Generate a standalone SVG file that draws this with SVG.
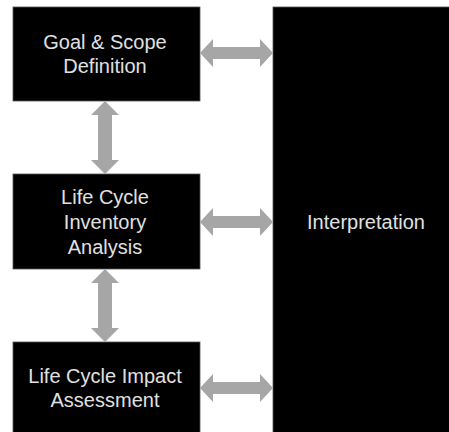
<svg xmlns="http://www.w3.org/2000/svg" width="449" height="432" viewBox="0 0 449 432">
<style>
.box{fill:#000;stroke:#555;stroke-width:0.8}
.t{font-family:"Liberation Sans",Arial,sans-serif;font-size:20px;fill:#e0e0e0;text-anchor:middle}
.arr{fill:#a6a6a6}
</style>
<rect width="449" height="432" fill="#fff"/>
<g id="goal">
<rect class="box" x="13" y="7" width="187" height="94"/>
<text class="t" x="105" y="49">Goal &amp; Scope</text>
<text class="t" x="105" y="73">Definition</text>
</g>
<g id="inventory">
<rect class="box" x="13" y="174" width="187" height="95"/>
<text class="t" x="105" y="204">Life Cycle</text>
<text class="t" x="105" y="229">Inventory</text>
<text class="t" x="105" y="254">Analysis</text>
</g>
<g id="impact">
<rect class="box" x="13" y="342" width="187" height="100"/>
<text class="t" x="105" y="383">Life Cycle Impact</text>
<text class="t" x="105" y="407">Assessment</text>
</g>
<g id="interpretation">
<rect class="box" x="273" y="7" width="186" height="435"/>
<text class="t" x="366" y="229">Interpretation</text>
</g>
<g id="connectors">
<path class="arr" d="M200,53 L213,39 L213,47 L260,47 L260,39 L273,53 L260,67 L260,59 L213,59 L213,67 Z"/>
<path class="arr" d="M200,222 L213,208 L213,216 L260,216 L260,208 L273,222 L260,236 L260,228 L213,228 L213,236 Z"/>
<path class="arr" d="M200,388 L213,374 L213,382 L260,382 L260,374 L273,388 L260,402 L260,394 L213,394 L213,402 Z"/>
<path class="arr" d="M105,101 L119,115 L112,115 L112,160 L119,160 L105,174 L91,160 L98,160 L98,115 L91,115 Z"/>
<path class="arr" d="M105,269 L119,283 L112,283 L112,328 L119,328 L105,342 L91,328 L98,328 L98,283 L91,283 Z"/>
</g>
</svg>
